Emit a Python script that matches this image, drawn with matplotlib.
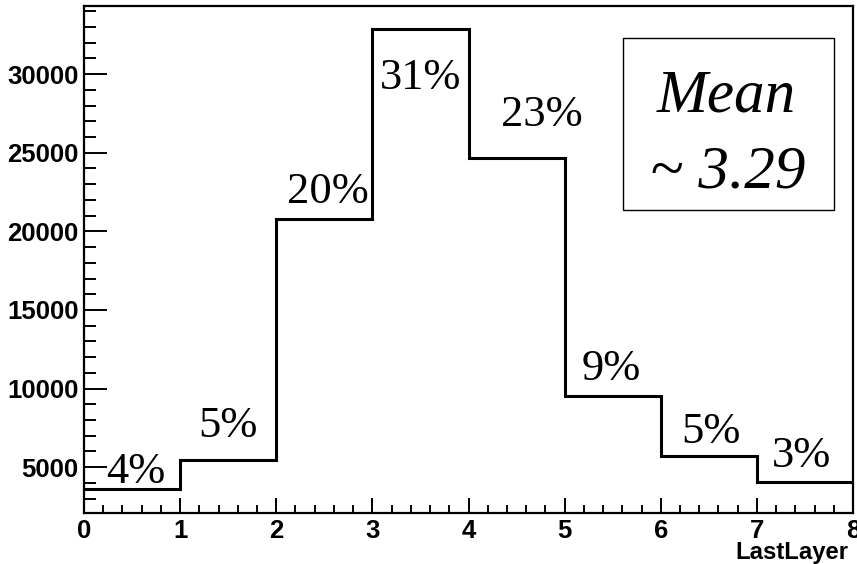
import numpy as np
import matplotlib
matplotlib.use("Agg")
import matplotlib.pyplot as plt
from matplotlib.ticker import MultipleLocator
from matplotlib.patches import Rectangle

# Histogram of the last layer reached
bin_edges = [0, 1, 2, 3, 4, 5, 6, 7, 8]
counts = [3580, 5430, 20810, 32870, 24680, 9530, 5700, 4050]
pct_labels = ["4%", "5%", "20%", "31%", "23%", "9%", "5%", "3%"]
# text anchors (bin centre-ish x, baseline y in data units)
label_x = [0.54, 1.50, 2.54, 3.50, 4.76, 5.49, 6.52, 7.46]
label_y = [4020, 6890, 21830, 29040, 26680, 10530, 6510, 4980]
y_ticks = [5000, 10000, 15000, 20000, 25000, 30000]
x_ticks = [0, 1, 2, 3, 4, 5, 6, 7, 8]
x_title = "LastLayer"
mean_lines = ["Mean", "~ 3.29"]

W, H = 857, 564
fig = plt.figure(figsize=(W / 100, H / 100), dpi=100)
ax = fig.add_axes([84 / W, 1 - 512.5 / H, (853 - 84) / W, (512.5 - 6) / H])

ax.stairs(counts, bin_edges, color="black", linewidth=2.2, baseline=None)

lo, hi = min(counts), max(counts)
margin = 0.05 * (hi - lo)
ax.set_ylim(lo - margin, hi + margin)
ax.set_xlim(bin_edges[0], bin_edges[-1])

sans_bold = dict(family="Liberation Sans", weight="bold", size=18.5)
ax.set_xticks(x_ticks)
ax.set_xticklabels([str(t) for t in x_ticks], fontdict=sans_bold)
ax.xaxis.set_minor_locator(MultipleLocator(0.2))
ax.set_yticks(y_ticks)
ax.set_yticklabels([str(t) for t in y_ticks], fontdict=sans_bold)
ax.yaxis.set_minor_locator(MultipleLocator(1000))

ax.tick_params(axis="x", which="major", direction="in", length=11, width=1.4, pad=5)
ax.tick_params(axis="x", which="minor", direction="in", length=5.5, width=1.4)
ax.tick_params(axis="y", which="major", direction="in", length=16.5, width=1.4, pad=4)
ax.tick_params(axis="y", which="minor", direction="in", length=8.5, width=1.4)
for s in ax.spines.values():
    s.set_linewidth(1.6)

for txt, x, y in zip(pct_labels, label_x, label_y):
    ax.text(x, y, txt, ha="center", va="baseline",
            family="Liberation Serif", size=32)

fig.text(848 / W, 1 - 559 / H, x_title, ha="right", va="baseline",
         family="Liberation Sans", weight="bold", size=17.2)

# mean annotation box
fig.patches.append(Rectangle((623 / W, 1 - 210 / H), (834 - 623) / W, (210 - 37.5) / H,
                             transform=fig.transFigure, fill=False,
                             edgecolor="black", linewidth=1.0))
fig.text(726 / W, 1 - 111 / H, mean_lines[0], ha="center", va="baseline",
         family="Liberation Serif", style="italic", size=44)
fig.text(728 / W, 1 - 188 / H, mean_lines[1], ha="center", va="baseline",
         family="Liberation Serif", style="italic", size=44)

fig.savefig("out.png", dpi=100)
